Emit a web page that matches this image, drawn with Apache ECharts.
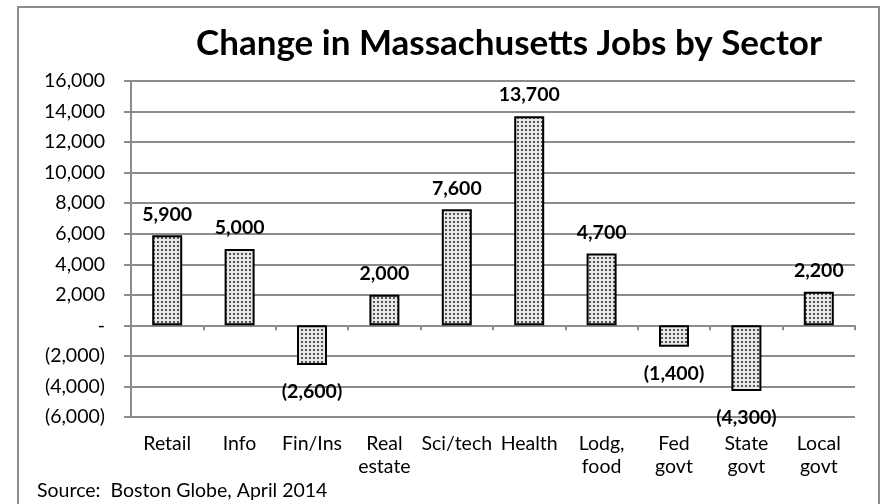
<!DOCTYPE html>
<html style="height: 100%">
<head>
<meta charset="utf-8">
</head>
<body style="height: 100%; margin: 0; background: #fff">
<div id="container" style="width: 884px; height: 504px"></div>
<script src="https://cdn.jsdelivr.net/npm/echarts@6/dist/echarts.min.js"></script>
<script>
// sectors and change in jobs
var sectors = ['Retail', 'Info', 'Fin/Ins', 'Real\nestate', 'Sci/tech', 'Health', 'Lodg,\nfood', 'Fed\ngovt', 'State\ngovt', 'Local\ngovt'];
var jobChange = [5900, 5000, -2600, 2000, 7600, 13700, 4700, -1400, -4300, 2200];

var FONT = 'Lato';

// accounting style: (2,000) for negatives, "-" for zero
function acct(v) {
    if (v === 0) return '-';
    var s = Math.abs(v).toLocaleString('en-US');
    return v < 0 ? '(' + s + ')' : s;
}

// dotted fill like the excel pattern
var pat = document.createElement('canvas');
pat.width = 4;
pat.height = 4;
var pctx = pat.getContext('2d');
pctx.fillStyle = '#e8e8e8';
pctx.fillRect(0, 0, 4, 4);
pctx.fillStyle = '#555';
pctx.fillRect(1, 1, 2, 2);

var myChart = echarts.init(document.getElementById('container'));

var option = {
    backgroundColor: '#fff',
    animation: false,
    title: {
        text: 'Change in Massachusetts Jobs by Sector',
        left: 504,
        textAlign: 'center',
        top: 21,
        textStyle: { fontFamily: FONT, fontWeight: 'bold', fontSize: 35, color: '#000' }
    },
    graphic: [
        {
            type: 'rect',
            shape: { x: 18, y: 7, width: 861, height: 510 },
            style: { fill: 'none', stroke: '#8c8c8c', lineWidth: 2 }
        },
        {
            type: 'text',
            left: 37,
            top: 481,
            style: { text: 'Source:  Boston Globe, April 2014', fontFamily: FONT, fontSize: 19.5, fill: '#000' }
        }
    ],
    grid: { left: 131, right: 29, top: 81, bottom: 87 },
    xAxis: [
        {
            type: 'category',
            data: sectors,
            position: 'bottom',
            axisLine: { show: false, onZero: false },
            axisTick: { show: false },
            axisLabel: { margin: 15, fontFamily: FONT, fontSize: 19.5, color: '#000', lineHeight: 23, interval: 0 }
        },
        {
            type: 'category',
            data: sectors,
            position: 'bottom',
            axisLine: { show: true, onZero: true, lineStyle: { color: '#8c8c8c', width: 2 } },
            axisTick: { show: true, length: 5, lineStyle: { color: '#8c8c8c', width: 2 } },
            axisLabel: { show: false }
        }
    ],
    yAxis: {
        type: 'value',
        min: -6000,
        max: 16000,
        interval: 2000,
        axisLine: { show: true, lineStyle: { color: '#8c8c8c', width: 2 } },
        axisTick: { show: true, length: 7, lineStyle: { color: '#8c8c8c', width: 2 } },
        splitLine: { lineStyle: { color: '#8c8c8c', width: 2 } },
        axisLabel: {
            margin: 26,
            fontFamily: FONT,
            fontSize: 19.5,
            color: '#000',
            formatter: acct
        }
    },
    series: [{
        type: 'bar',
        xAxisIndex: 0,
        barWidth: 30,
        data: jobChange.map(function (v) {
            return {
                value: v,
                label: { position: v < 0 ? 'bottom' : 'top', distance: v < 0 ? 17 : 11 }
            };
        }),
        itemStyle: {
            color: { image: pat, repeat: 'repeat' },
            borderColor: '#000',
            borderWidth: 2
        },
        label: {
            show: true,
            fontFamily: FONT,
            fontWeight: 'bold',
            fontSize: 19.5,
            color: '#000',
            formatter: function (p) { return acct(p.value); }
        }
    }]
};

myChart.setOption(option);
</script>
</body>
</html>
